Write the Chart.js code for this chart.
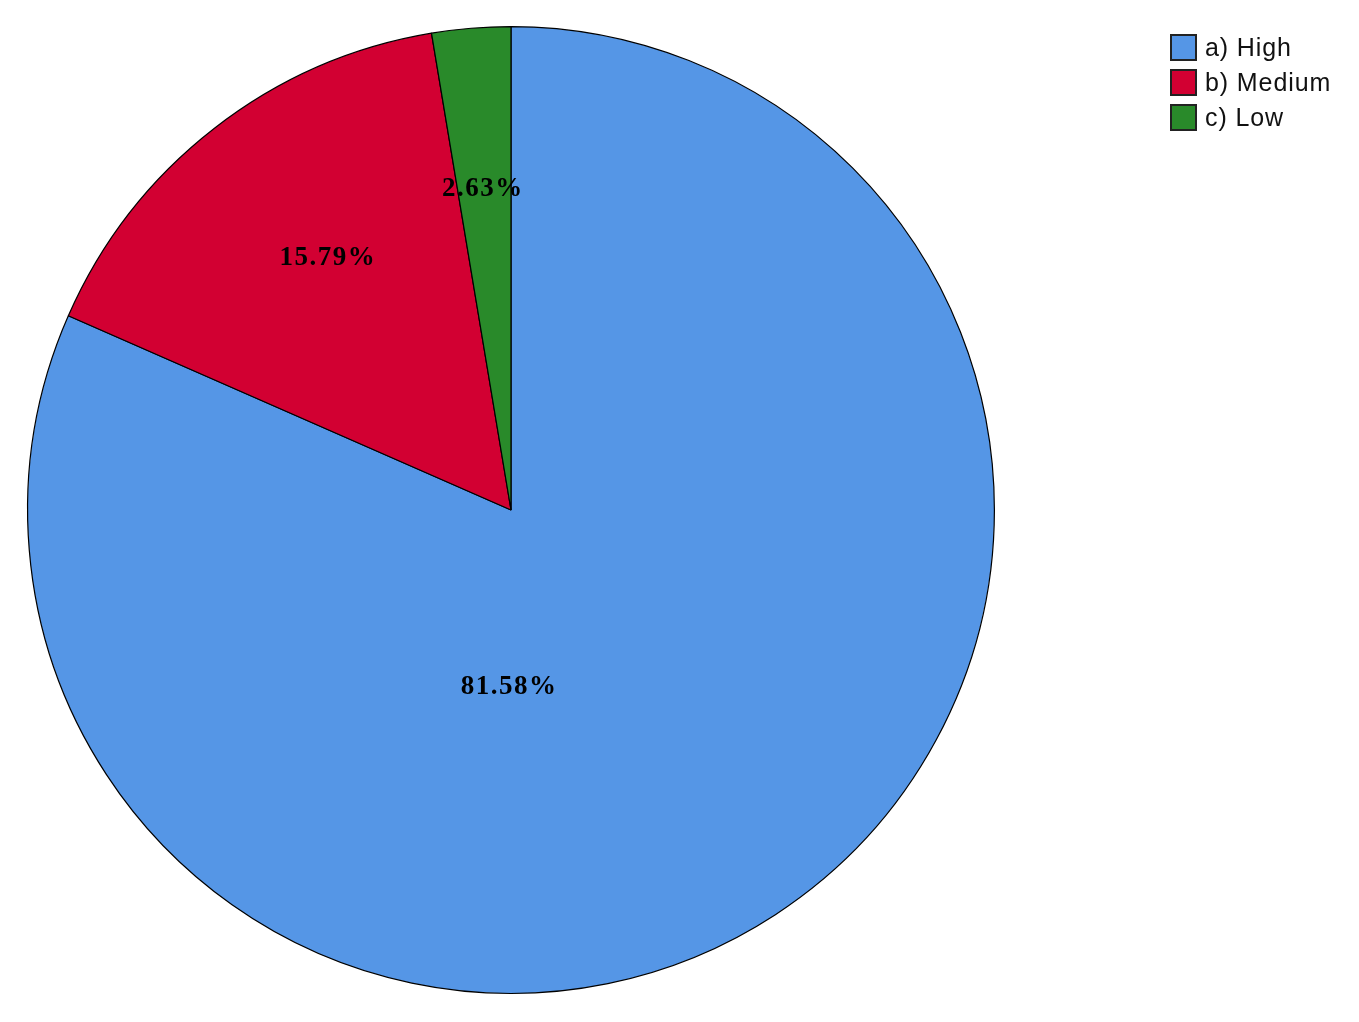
<!DOCTYPE html>
<html>
<head>
<meta charset="utf-8">
<script src="https://cdn.jsdelivr.net/npm/chart.js@4/dist/chart.umd.min.js"></script>
<style>
  html, body { margin: 0; padding: 0; background: #fff; }
  #wrap { position: relative; width: 1359px; height: 1022px; }
  #legend { position: absolute; left: 1170px; top: 30px; font-family: "Liberation Sans", Arial, sans-serif; font-size: 25px; letter-spacing: 0.9px; color: #111; }
  .row { display: flex; align-items: center; height: 35px; }
  .box { width: 27px; height: 27px; box-sizing: border-box; border: 2px solid #222; margin-right: 8px; }
</style>
</head>
<body>
<div id="wrap">
  <canvas id="c" width="1359" height="1022"></canvas>
  <div id="legend"></div>
</div>
<script>
const categories = ["a) High", "b) Medium", "c) Low"];
const percentValues = [81.58, 15.79, 2.63];
const sliceLabels = ["81.58%", "15.79%", "2.63%"];
const sliceColors = ["#5596E6", "#D20032", "#298A2A"];

// label anchor (fraction of radius, relative to centre) - styling only
const labelAnchors = [[-0.004, 0.366], [-0.379, -0.522], [-0.058, -0.665]];

const labelPlugin = {
  id: 'sliceLabels',
  afterDatasetsDraw(chart) {
    const ctx = chart.ctx;
    const meta = chart.getDatasetMeta(0);
    ctx.save();
    ctx.font = 'bold 27px "Liberation Serif", "Times New Roman", serif';
    ctx.letterSpacing = '1.5px';
    ctx.fillStyle = '#000';
    ctx.textAlign = 'center';
    ctx.textBaseline = 'middle';
    meta.data.forEach((arc, i) => {
      const r = arc.outerRadius;
      const x = arc.x + labelAnchors[i][0] * r;
      const y = arc.y + labelAnchors[i][1] * r;
      ctx.fillText(sliceLabels[i], x, y);
    });
    ctx.restore();
  }
};

new Chart(document.getElementById('c'), {
  type: 'pie',
  data: {
    labels: categories,
    datasets: [{
      data: percentValues,
      backgroundColor: sliceColors,
      borderColor: '#000',
      borderWidth: 1.2
    }]
  },
  options: {
    responsive: false,
    animation: false,
    layout: { padding: { left: 27, top: 26, right: 364, bottom: 28 } },
    plugins: { legend: { display: false }, tooltip: { enabled: false } }
  },
  plugins: [labelPlugin]
});

const legend = document.getElementById('legend');
categories.forEach((c, i) => {
  const row = document.createElement('div');
  row.className = 'row';
  const box = document.createElement('div');
  box.className = 'box';
  box.style.background = sliceColors[i];
  const t = document.createElement('span');
  t.textContent = c;
  row.appendChild(box);
  row.appendChild(t);
  legend.appendChild(row);
});
</script>
</body>
</html>
